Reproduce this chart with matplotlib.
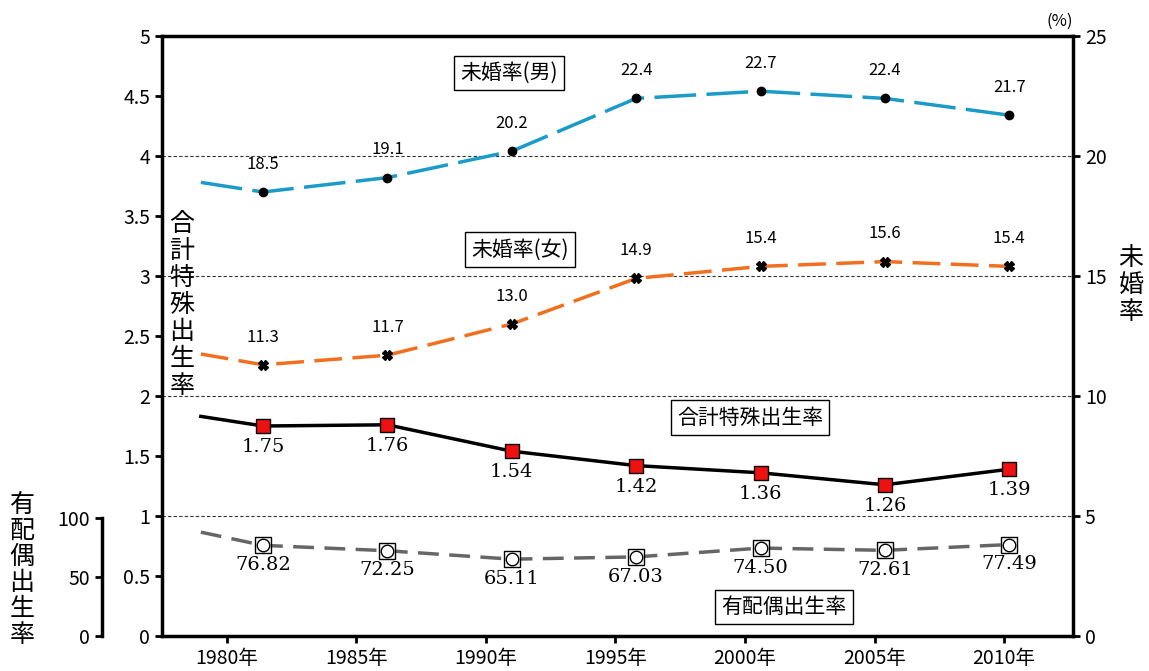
import matplotlib
matplotlib.use("Agg")
import matplotlib.pyplot as plt

plt.rcParams['font.family'] = ['Noto Sans CJK JP', 'DejaVu Sans']

years = [1981.4, 1986.2, 1991.0, 1995.8, 2000.6, 2005.4, 2010.2]
start_year = 1979.0
men = [18.5, 19.1, 20.2, 22.4, 22.7, 22.4, 21.7]
women = [11.3, 11.7, 13.0, 14.9, 15.4, 15.6, 15.4]
tfr = [1.75, 1.76, 1.54, 1.42, 1.36, 1.26, 1.39]
marital = [76.82, 72.25, 65.11, 67.03, 74.50, 72.61, 77.49]
men_start, women_start, tfr_start, marital_start = 18.9, 11.75, 1.83, 88.0
xticks = [1980, 1985, 1990, 1995, 2000, 2005, 2010]
xlabels = [f'{y}年' for y in xticks]

fig = plt.figure(figsize=(11.49, 6.71), dpi=100)
ax = fig.add_axes([162/1149, 35/671, (1073-162)/1149, (636-36)/671])
ax.set_xlim(1977.5, 2012.66)
ax.set_ylim(0, 5)
ax.set_yticks([i * 0.5 for i in range(11)])
ax.set_yticklabels(['0', '0.5', '1', '1.5', '2', '2.5', '3', '3.5', '4', '4.5', '5'])
ax.set_xticks(xticks)
ax.set_xticklabels(xlabels, fontsize=14)
for y in [1, 2, 3, 4, 5]:
    ax.axhline(y, color='#333333', lw=0.8, ls=(0, (3, 2)), zorder=0)
for s in ax.spines.values():
    s.set_linewidth(2.5)
ax.tick_params(labelsize=14, width=2, length=5)

axr = ax.twinx()
axr.set_ylim(0, 25)
axr.set_yticks([0, 5, 10, 15, 20, 25])
axr.tick_params(labelsize=14, width=2, length=5)
axr.text(1.0, 1.01, '(%)', transform=axr.transAxes, ha='right', va='bottom', fontsize=12)

axm = ax.twinx()
axm.set_ylim(0, 100 * 600 / 118)
axm.axis('off')

# lines
axr.plot([start_year] + years, [men_start] + men, color='#1a9bc8', lw=2.5, ls=(0, (12, 3)))
axr.plot(years, men, 'o', color='black', ms=6)
for x, v in zip(years, men):
    axr.text(x, v + 0.8, f'{v}', ha='center', va='bottom', fontsize=12)

axr.plot([start_year] + years, [women_start] + women, color='#f07020', lw=2.5, ls=(0, (8, 3)))
axr.plot(years, women, 'X', color='black', ms=7)
for x, v in zip(years, women):
    axr.text(x, v + 0.8, f'{v:.1f}', ha='center', va='bottom', fontsize=12)

ax.plot([start_year] + years, [tfr_start] + tfr, color='black', lw=2.5)
ax.plot(years, tfr, 's', mfc='#ee1111', mec='black', ms=10)
for x, v in zip(years, tfr):
    ax.text(x, v - 0.1, f'{v:.2f}', ha='center', va='top', fontsize=14, family='DejaVu Serif')

axm.plot([start_year] + years, [marital_start] + marital, color='#666666', lw=2.5, ls=(0, (6, 3)))
axm.plot(years, marital, 's', mfc='white', mec='black', ms=11)
axm.plot(years, marital, 'o', mfc='white', mec='black', ms=9)
for x, v in zip(years, marital):
    axm.text(x, v - 9, f'{v:.2f}', ha='center', va='top', fontsize=14, family='DejaVu Serif')

box = dict(boxstyle='square,pad=0.3', fc='white', ec='black', lw=1)
ax.text(1990.9, 4.69, '未婚率(男)', fontsize=15, ha='center', va='center', bbox=box)
ax.text(1991.3, 3.22, '未婚率(女)', fontsize=15, ha='center', va='center', bbox=box)
ax.text(2000.2, 1.82, '合計特殊出生率', fontsize=15, ha='center', va='center', bbox=box)
ax.text(2001.5, 0.24, '有配偶出生率', fontsize=15, ha='center', va='center', bbox=box)

fig.text(182/1149, 1 - 305/671, '合\n計\n特\n殊\n出\n生\n率', fontsize=18, ha='center', va='center', linespacing=1.05)
fig.text(1131/1149, 1 - 285/671, '未\n婚\n率', fontsize=18, ha='center', va='center', linespacing=1.05)
fig.text(22/1149, 1 - 570/671, '有\n配\n偶\n出\n生\n率', fontsize=18, ha='center', va='center', linespacing=1.0)

# third axis for marital fertility
axs = fig.add_axes([102/1149, 35/671, 0.001, (636-518)/671])
axs.set_ylim(0, 100)
axs.set_yticks([0, 50, 100])
axs.tick_params(labelsize=14, width=2, length=5)
axs.set_xticks([])
for k in ['top', 'bottom', 'right']:
    axs.spines[k].set_visible(False)
axs.spines['left'].set_linewidth(2.5)

fig.savefig('out.png', dpi=100)
